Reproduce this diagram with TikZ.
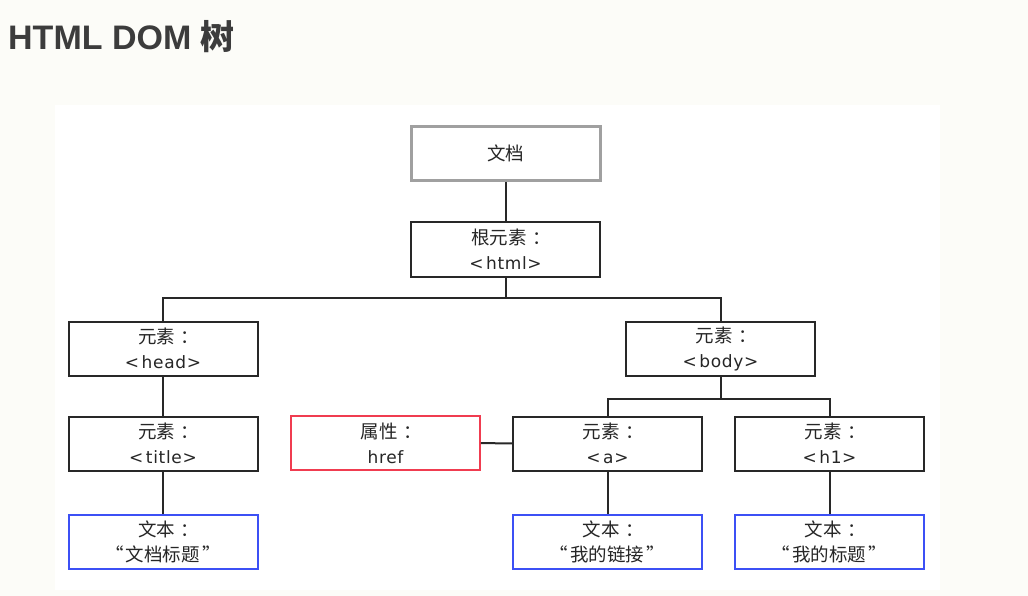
\documentclass[tikz,border=0pt]{standalone}
\usepackage{fontspec}
\setmainfont{DejaVu Sans}[LetterSpace=4]
\newfontfamily\titlefont{Liberation Sans}
\newfontfamily\cjk{Noto Sans CJK SC}
\usetikzlibrary{calc}
\usetikzlibrary{positioning}
\definecolor{pagebg}{RGB}{252,252,248}
\definecolor{titlegray}{RGB}{60,60,60}
\definecolor{docgray}{RGB}{160,160,160}
\definecolor{attrred}{RGB}{240,60,80}
\definecolor{textblue}{RGB}{60,80,245}
\definecolor{linegray}{RGB}{40,40,40}
\newcommand{\cjkline}[1]{{\cjk\fontsize{18.5}{23}\selectfont #1}}
\newcommand{\cjkcolon}{\kern0.3em：\kern-0.6em}
\newcommand{\quoted}[1]{\cjkline{“\kern0.12em#1\kern0.12em”}}
\newcommand{\tagname}[1]{<\kern0.15em#1>}
\tikzset{dom node/.style={
    draw=linegray, line width=2pt, fill=white,
    minimum width=189pt, minimum height=54pt,
    inner sep=0pt, align=center, text=black!85,
    font=\fontsize{17}{25}\selectfont
  },
  doc node/.style={dom node, draw=docgray, line width=3pt},
  attr node/.style={dom node, draw=attrred, line width=1.8pt},
  text node/.style={dom node, draw=textblue, line width=2pt},
  branch/.style={draw=linegray, line width=2pt}
}

\begin{document}
\begin{tikzpicture}[x=1pt,y=-1pt]
  \useasboundingbox[fill=pagebg] (0,0) rectangle (1028,596);
  \fill[white] (55,105) rectangle (940,590);
  \node[anchor=base west, inner sep=0pt, text=titlegray,
    font=\titlefont\fontsize{34}{40}\selectfont\bfseries] (heading) at (8,50) {HTML DOM {\cjk 树}};

  % tree nodes
  \node[doc node]  (doc)  at (505.5,153.5) {\cjkline{文档}};
  \node[dom node]  (html) at (505.5,249.5) {\cjkline{根元素\cjkcolon}\\\tagname{html}};
  \node[dom node]  (head) at (163,348.5)   {\cjkline{元素\cjkcolon}\\\tagname{head}};
  \node[dom node]  (body) at (720.5,348.5) {\cjkline{元素\cjkcolon}\\\tagname{body}};
  \node[dom node]  (title) at (163,443.5)  {\cjkline{元素\cjkcolon}\\\tagname{title}};
  \node[attr node] (href) at (385.5,443)   {\cjkline{属性\cjkcolon}\\href};
  \node[dom node]  (a)    at (607.5,443.5) {\cjkline{元素\cjkcolon}\\\tagname{a}};
  \node[dom node]  (h1)   at (829.5,443.5) {\cjkline{元素\cjkcolon}\\\tagname{h1}};
  \node[text node] (title text) at (163,541.5)   {\cjkline{文本\cjkcolon}\\\quoted{文档标题}};
  \node[text node] (a text)     at (607.5,541.5) {\cjkline{文本\cjkcolon}\\\quoted{我的链接}};
  \node[text node] (h1 text)    at (829.5,541.5) {\cjkline{文本\cjkcolon}\\\quoted{我的标题}};

  % branches
  \coordinate (html bar) at ($(html.south)+(0,20)$);
  \coordinate (body bar) at ($(body.south)+(0,22)$);
  \draw[branch] (doc) -- (html);
  \draw[branch] (html.south) -- (html bar) -| (head.north);
  \draw[branch] (html bar) -| (body.north);
  \draw[branch] (head) -- (title);
  \draw[branch] (title) -- (title text);
  \draw[branch] (body.south) -- (body bar) -| (a.north);
  \draw[branch] (body bar) -| (h1.north);
  \draw[branch] (href) -- (a);
  \draw[branch] (a) -- (a text);
  \draw[branch] (h1) -- (h1 text);
\end{tikzpicture}
\end{document}
